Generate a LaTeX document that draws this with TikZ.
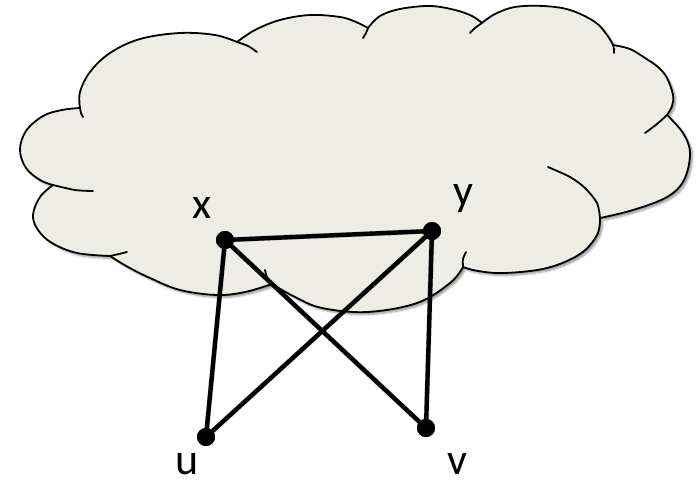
\documentclass[tikz,border=0pt]{standalone}
\usepackage{fontspec}
\setmainfont{Carlito}
\usetikzlibrary{shadows.blur}
\definecolor{cloudfill}{HTML}{EEEDE5}
\tikzset{
  cloud/.style={fill=cloudfill, draw=black, line width=1.8pt, line join=round,
    blur shadow={shadow xshift=2.5pt, shadow yshift=-2.5pt, shadow blur steps=6, shadow opacity=40}},
  crease/.style={draw=black, line width=1.8pt, line cap=round},
  edge/.style={draw=black, line width=4.4pt, line cap=round},
  edgeshadow/.style={draw=black, opacity=0.18, line width=5.2pt, line cap=round},
  vertex/.style={circle, fill=black, inner sep=0pt, minimum size=18pt},
  lbl/.style={anchor=base, inner sep=0pt, font=\fontsize{44}{48}\selectfont}
}
\begin{document}
\begin{tikzpicture}[x=1pt,y=-1pt]
\useasboundingbox (0,0) rectangle (700,479);
% cloud body
\path[cloud]
  plot[smooth,tension=0.6] coordinates {(53,185) (40,180) (26,168) (20,150) (26,131) (43,116) (62,110) (80,108)}
  -- plot[smooth,tension=0.6] coordinates {(80,108) (80,92) (90,72) (110,53) (140,39) (180,33) (215,35) (237,42)}
  -- plot[smooth,tension=0.6] coordinates {(237,42) (255,30) (280,20) (310,15) (340,17) (356,22) (368,28)}
  -- plot[smooth,tension=0.6] coordinates {(368,28) (380,16) (400,9) (430,6) (455,10) (472,16) (482,23)}
  -- plot[smooth,tension=0.6] coordinates {(482,23) (495,14) (515,7) (543,6) (570,10) (595,22) (607,35) (613,45)}
  -- plot[smooth,tension=0.6] coordinates {(613,45) (630,49) (645,58) (658,67) (667,78) (673,95) (672,106) (667,115)}
  -- plot[smooth,tension=0.6] coordinates {(667,115) (683,133) (690,153) (684,180) (667,197) (633,210) (600,218)}
  -- plot[smooth,tension=0.6] coordinates {(600,218) (597,235) (580,254) (547,268) (505,273) (478,271) (463,267)}
  -- plot[smooth,tension=0.6] coordinates {(463,267) (450,283) (417,303) (367,312) (322,308) (295,297) (272,284)}
  -- plot[smooth,tension=0.6] coordinates {(272,284) (245,292) (217,295) (180,290) (150,278) (128,267) (110,256)}
  -- plot[smooth,tension=0.6] coordinates {(110,256) (77,253) (52,243) (38,230) (33,215) (40,197) (53,185)}
  -- cycle;
% creases
\draw[crease] plot[smooth] coordinates {(53,185) (75,190) (93,191)};
\draw[crease] plot[smooth] coordinates {(80,108) (81,113) (83,117)};
\draw[crease] plot[smooth] coordinates {(237,42) (248,46) (257,52)};
\draw[crease] plot[smooth] coordinates {(368,28) (366,33) (363,38)};
\draw[crease] plot[smooth] coordinates {(482,23) (475,28) (470,33)};
\draw[crease] plot[smooth] coordinates {(613,45) (614,49) (614,53)};
\draw[crease] plot[smooth] coordinates {(667,115) (657,124) (645,133)};
\draw[crease] plot[smooth] coordinates {(600,218) (597,203) (585,188) (570,177) (548,167)};
\draw[crease] plot[smooth] coordinates {(463,267) (463,259) (466,252)};
\draw[crease] plot[smooth] coordinates {(272,284) (267,277) (265,270)};
\draw[crease] plot[smooth] coordinates {(110,256) (119,254) (127,252)};
% vertices
\node[vertex] (nx) at (225,240) {};
\node[vertex] (ny) at (432,231) {};
\node[vertex] (nu) at (206,437) {};
\node[vertex] (nv) at (426,428) {};
% edge shadows
\begin{scope}[shift={(1.5,1.5)}]
\draw[edgeshadow] (nx.center) -- (ny.center);
\draw[edgeshadow] (nx.center) -- (nu.center);
\draw[edgeshadow] (nx.center) -- (nv.center);
\draw[edgeshadow] (ny.center) -- (nu.center);
\draw[edgeshadow] (ny.center) -- (nv.center);
\end{scope}
% edges
\draw[edge] (nx.center) -- (ny.center);
\draw[edge] (nx.center) -- (nu.center);
\draw[edge] (nx.center) -- (nv.center);
\draw[edge] (ny.center) -- (nu.center);
\draw[edge] (ny.center) -- (nv.center);
% redraw vertices on top
\fill (nx) circle[radius=9pt];
\fill (ny) circle[radius=9pt];
\fill (nu) circle[radius=9pt];
\fill (nv) circle[radius=9pt];
% labels
\node[lbl] (lx) at (202,218) {x};
\node[lbl] (ly) at (463,205) {y};
\node[lbl] (lu) at (187,474) {u};
\node[lbl] (lv) at (457,474) {v};
\end{tikzpicture}
\end{document}
